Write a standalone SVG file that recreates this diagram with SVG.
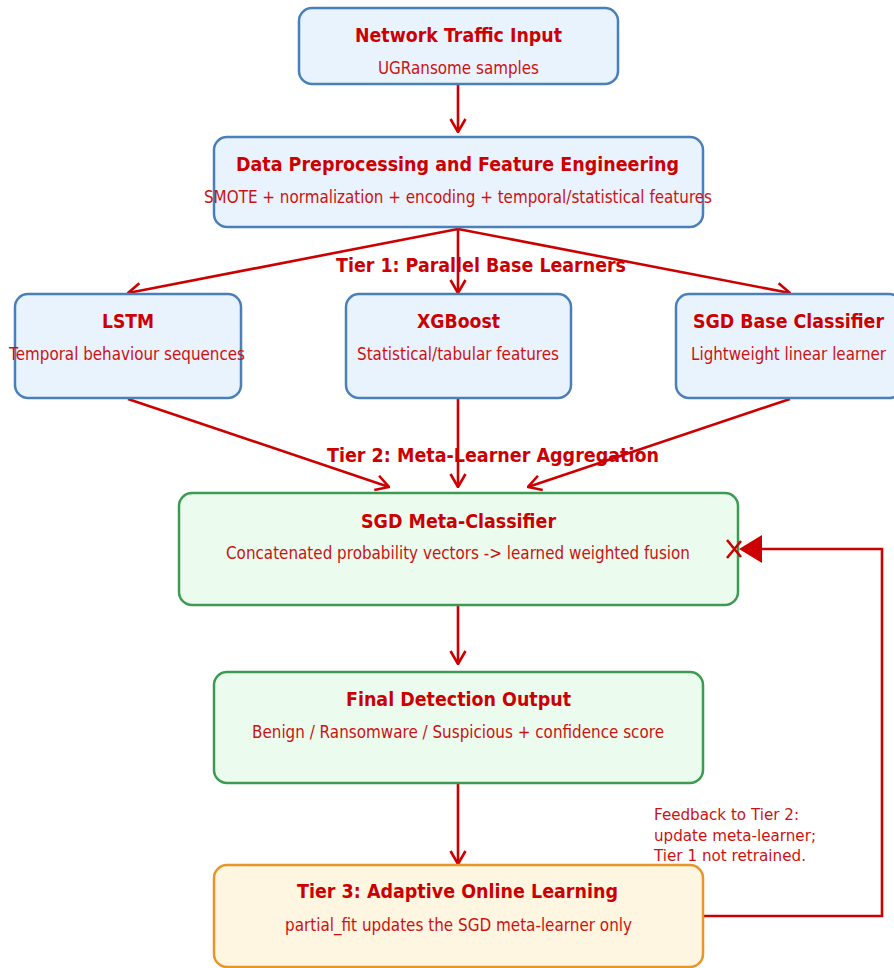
<svg xmlns="http://www.w3.org/2000/svg" width="894" height="968" viewBox="0 0 894 968">
<defs>
<style>
.blue{fill:#e9f3fd;stroke:#4a80b9;stroke-width:2.5}
.green{fill:#ebfcee;stroke:#3d9a52;stroke-width:2.5}
.orange{fill:#fef6e0;stroke:#e8952a;stroke-width:2.5}
.t{font-family:"DejaVu Sans",sans-serif;font-weight:bold;font-size:20px;fill:#cc0000;text-anchor:middle}
.s{font-family:"DejaVu Sans",sans-serif;font-size:17px;fill:#cc1111;text-anchor:middle}
.f{font-family:"DejaVu Sans",sans-serif;font-size:16.5px;fill:#cc1111}
.c{fill:none;stroke:#cc0000;stroke-width:2.6}
</style>
<marker id="ah" viewBox="0 0 16 18" refX="15" refY="9" markerWidth="16" markerHeight="18" markerUnits="userSpaceOnUse" orient="auto">
<path d="M2,1.5 L15,9 L2,16.5" fill="none" stroke="#cc0000" stroke-width="2.6"/>
</marker>
</defs>
<g id="connectors">
<line class="c" x1="458" y1="85" x2="458" y2="132" marker-end="url(#ah)"/>
<line class="c" x1="458" y1="229" x2="128" y2="293" marker-end="url(#ah)"/>
<line class="c" x1="458" y1="229" x2="458" y2="293" marker-end="url(#ah)"/>
<line class="c" x1="458" y1="229" x2="790" y2="293" marker-end="url(#ah)"/>
<line class="c" x1="128" y1="399" x2="389" y2="487" marker-end="url(#ah)"/>
<line class="c" x1="458" y1="399" x2="458" y2="487" marker-end="url(#ah)"/>
<line class="c" x1="790" y1="399" x2="528" y2="487" marker-end="url(#ah)"/>
<line class="c" x1="458" y1="606" x2="458" y2="664" marker-end="url(#ah)"/>
<line class="c" x1="458" y1="784" x2="458" y2="864" marker-end="url(#ah)"/>
<polyline class="c" points="703,916 882,916 882,549 760,549"/>
</g>
<text class="t" x="481" y="272" textLength="290" lengthAdjust="spacingAndGlyphs">Tier 1: Parallel Base Learners</text>
<text class="t" x="493" y="462" textLength="332" lengthAdjust="spacingAndGlyphs">Tier 2: Meta-Learner Aggregation</text>
<g id="input">
<rect class="blue" x="299" y="8" width="319" height="76" rx="13"/>
<text class="t" x="458.5" y="42" textLength="207" lengthAdjust="spacingAndGlyphs">Network Traffic Input</text>
<text class="s" x="458.5" y="74" textLength="161" lengthAdjust="spacingAndGlyphs">UGRansome samples</text>
</g>
<g id="preprocessing">
<rect class="blue" x="214" y="137" width="489" height="90" rx="13"/>
<text class="t" x="457.5" y="171" textLength="443" lengthAdjust="spacingAndGlyphs">Data Preprocessing and Feature Engineering</text>
<text class="s" x="458" y="203" textLength="508" lengthAdjust="spacingAndGlyphs">SMOTE + normalization + encoding + temporal/statistical features</text>
</g>
<g id="lstm">
<rect class="blue" x="15" y="294" width="226" height="104" rx="13"/>
<text class="t" x="128" y="328" textLength="52" lengthAdjust="spacingAndGlyphs">LSTM</text>
<text class="s" x="127" y="360" textLength="236" lengthAdjust="spacingAndGlyphs">Temporal behaviour sequences</text>
</g>
<g id="xgboost">
<rect class="blue" x="346" y="294" width="225" height="104" rx="13"/>
<text class="t" x="458.5" y="328" textLength="83" lengthAdjust="spacingAndGlyphs">XGBoost</text>
<text class="s" x="458" y="360" textLength="202" lengthAdjust="spacingAndGlyphs">Statistical/tabular features</text>
</g>
<g id="sgd-base">
<rect class="blue" x="676" y="294" width="226" height="104" rx="13"/>
<text class="t" x="788.5" y="328" textLength="191" lengthAdjust="spacingAndGlyphs">SGD Base Classifier</text>
<text class="s" x="788.5" y="360" textLength="195" lengthAdjust="spacingAndGlyphs">Lightweight linear learner</text>
</g>
<g id="meta">
<rect class="green" x="179" y="493" width="559" height="112" rx="13"/>
<text class="t" x="458.5" y="528" textLength="195" lengthAdjust="spacingAndGlyphs">SGD Meta-Classifier</text>
<text class="s" x="458" y="559" textLength="464" lengthAdjust="spacingAndGlyphs">Concatenated probability vectors -&gt; learned weighted fusion</text>
</g>
<g id="output">
<rect class="green" x="214" y="672" width="489" height="111" rx="13"/>
<text class="t" x="458.5" y="706" textLength="225" lengthAdjust="spacingAndGlyphs">Final Detection Output</text>
<text class="s" x="458" y="738" textLength="412" lengthAdjust="spacingAndGlyphs">Benign / Ransomware / Suspicious + confidence score</text>
</g>
<g id="online">
<rect class="orange" x="214" y="865" width="489" height="102" rx="13"/>
<text class="t" x="457.5" y="898" textLength="321" lengthAdjust="spacingAndGlyphs">Tier 3: Adaptive Online Learning</text>
<text class="s" x="458.5" y="931" textLength="347" lengthAdjust="spacingAndGlyphs">partial_fit updates the SGD meta-learner only</text>
</g>
<g id="feedback-head">
<path d="M727,540 L741,557 M727,558 L741,541" stroke="#cc0000" stroke-width="2.6" fill="none"/>
<polygon points="739,549 762,535 762,563" fill="#cc0000"/>
</g>
<g id="feedback-label">
<text class="f" x="654" y="820" textLength="145" lengthAdjust="spacingAndGlyphs">Feedback to Tier 2:</text>
<text class="f" x="654" y="840.5" textLength="162" lengthAdjust="spacingAndGlyphs">update meta-learner;</text>
<text class="f" x="654" y="861" textLength="152" lengthAdjust="spacingAndGlyphs">Tier 1 not retrained.</text>
</g>
</svg>
